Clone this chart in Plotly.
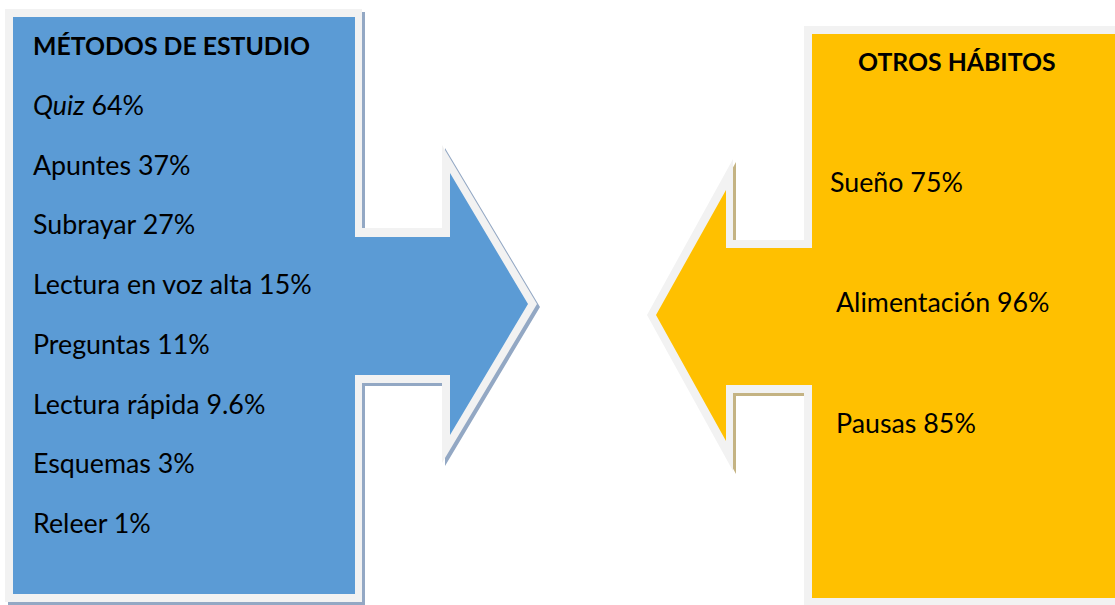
import plotly.graph_objects as go

# ---- data ----
study_methods = ["<i>Quiz</i>", "Apuntes", "Subrayar", "Lectura en voz alta",
                 "Preguntas", "Lectura rápida", "Esquemas", "Releer"]
study_values = [64, 37, 27, 15, 11, 9.6, 3, 1]
other_habits = ["Sueño", "Alimentación", "Pausas"]
other_values = [75, 96, 85]
left_title = "MÉTODOS DE ESTUDIO"
right_title = "OTROS HÁBITOS"

W, H = 1115, 605
FONT = "Lato"
BODY_SIZE = 26.8
TITLE_SIZE = 24.8

# ---- geometry of the callout shapes (pixel space) ----
blue_inner = [(13, 17), (355, 17), (355, 237), (450, 237), (450, 173), (528, 304),
              (450, 435), (450, 375), (355, 375), (355, 594), (13, 594)]
blue_outer = [(5, 9), (362, 9), (362, 228), (442, 228), (442, 145), (537, 304),
              (442, 463), (442, 383), (362, 383), (362, 602), (5, 602)]
yel_inner = [(812, 34), (1130, 34), (1130, 598), (812, 598), (812, 385), (726, 385),
             (726, 441), (656, 315), (726, 190), (726, 248), (812, 248)]
yel_outer = [(804, 26), (1130, 26), (1130, 615), (804, 615), (804, 393), (733, 393),
             (733, 471), (647, 315), (733, 159), (733, 240), (804, 240)]


def path(pts, dx=0, dy=0):
    return "M " + " L ".join(f"{x + dx},{y + dy}" for x, y in pts) + " Z"


shapes = []
for inner, outer, fill, shadow in [
    (blue_inner, blue_outer, "#5B9BD5", "#93A8C4"),
    (yel_inner, yel_outer, "#FFC000", "#C4B383"),
]:
    shapes.append(dict(type="path", path=path(outer, 3, 3), xref="x", yref="y",
                       fillcolor=shadow, line=dict(width=0), layer="below"))
    shapes.append(dict(type="path", path=path(outer), xref="x", yref="y",
                       fillcolor="#F2F2F2", line=dict(width=0), layer="below"))
    shapes.append(dict(type="path", path=path(inner), xref="x", yref="y",
                       fillcolor=fill, line=dict(width=0), layer="below"))

annotations = []
annotations.append(dict(x=31, y=45, text=f"<b>{left_title}</b>", xanchor="left",
                        yanchor="middle", showarrow=False,
                        font=dict(family=FONT, size=TITLE_SIZE, color="black")))
y0, step = 105, 59.7
for i, (m, v) in enumerate(zip(study_methods, study_values)):
    annotations.append(dict(x=31, y=y0 + i * step, text=f"{m} {v}%", xanchor="left",
                            yanchor="middle", showarrow=False,
                            font=dict(family=FONT, size=BODY_SIZE, color="black")))

annotations.append(dict(x=957, y=61, text=f"<b>{right_title}</b>", xanchor="center",
                        yanchor="middle", showarrow=False,
                        font=dict(family=FONT, size=TITLE_SIZE, color="black")))
hab_pos = [(828, 182), (834, 302), (834, 423)]
for (x, y), h, v in zip(hab_pos, other_habits, other_values):
    annotations.append(dict(x=x, y=y, text=f"{h} {v}%", xanchor="left",
                            yanchor="middle", showarrow=False,
                            font=dict(family=FONT, size=BODY_SIZE, color="black")))

fig = go.Figure()
fig.update_layout(
    width=W, height=H, autosize=False,
    margin=dict(l=0, r=0, t=0, b=0, pad=0),
    paper_bgcolor="white", plot_bgcolor="white",
    xaxis=dict(range=[0, W], visible=False, fixedrange=True),
    yaxis=dict(range=[H, 0], visible=False, fixedrange=True),
    shapes=shapes, annotations=annotations, showlegend=False,
)

fig.write_html("out.html", config={"displayModeBar": False},
               post_script="document.body.style.margin='0';document.body.style.overflow='hidden';")
